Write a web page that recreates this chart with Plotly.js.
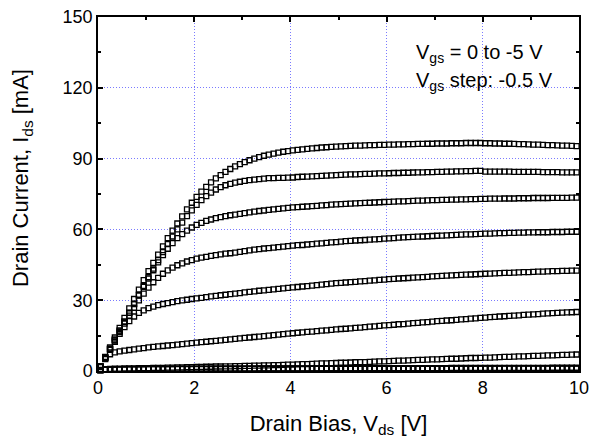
<!DOCTYPE html>
<html>
<head>
<meta charset="utf-8">
<script src="https://cdn.plot.ly/plotly-3.0.1.min.js"></script>
<style>html,body{margin:0;padding:0;background:#fff;}#chart{width:590px;height:443px;}</style>
</head>
<body>
<div id="chart"></div>
<script>
// Drain bias sweep points [V]
const vds = [0.05,0.15,0.25,0.35,0.45,0.55,0.65,0.75,0.85,0.95,
1.05,1.15,1.25,1.35,1.45,1.55,1.65,1.75,1.85,1.95,
2.05,2.15,2.25,2.35,2.45,2.55,2.65,2.75,2.85,2.95,
3.05,3.15,3.25,3.35,3.45,3.55,3.65,3.75,3.85,3.95,
4.05,4.15,4.25,4.35,4.45,4.55,4.65,4.75,4.85,4.95,
5.05,5.15,5.25,5.35,5.45,5.55,5.65,5.75,5.85,5.95,
6.05,6.15,6.25,6.35,6.45,6.55,6.65,6.75,6.85,6.95,
7.05,7.15,7.25,7.35,7.45,7.55,7.65,7.75,7.85,7.95,
8.05,8.15,8.25,8.35,8.45,8.55,8.65,8.75,8.85,8.95,
9.05,9.15,9.25,9.35,9.45,9.55,9.65,9.75,9.85,9.95];

// Gate voltages [V]
const vgsLabels = ["0","-0.5","-1","-1.5","-2","-2.5","-3","-3.5","-4","-4.5","-5"];

// Drain current [mA] per gate voltage
const ids_0 = [2.0,6.0,10.0,14.2,18.3,22.5,26.5,30.5,34.5,38.5,
42.3,45.8,49.3,52.8,56.3,59.5,62.5,65.5,68.5,71.3,
73.8,76.0,78.0,79.9,81.6,83.0,84.4,85.6,86.7,87.7,
88.5,89.3,90.0,90.6,91.2,91.7,92.1,92.5,92.9,93.2,
93.5,93.7,93.9,94.1,94.3,94.5,94.7,94.8,95.0,95.1,
95.2,95.3,95.4,95.5,95.5,95.6,95.7,95.7,95.8,95.8,
95.9,95.9,96.0,96.0,96.1,96.1,96.2,96.2,96.3,96.3,
96.4,96.4,96.4,96.5,96.5,96.5,96.6,96.6,96.6,96.6,
96.5,96.5,96.4,96.4,96.3,96.3,96.2,96.1,96.1,96.0,
95.9,95.9,95.8,95.7,95.7,95.6,95.5,95.5,95.4,95.3];

const ids_m05 = [1.9,5.7,9.5,13.3,17.1,20.9,24.7,28.5,32.3,36.1,
39.8,43.4,47.0,50.4,53.8,57.0,60.0,62.9,65.6,68.1,
70.4,72.4,74.1,75.6,76.9,77.9,78.7,79.3,79.8,80.2,
80.6,80.9,81.1,81.3,81.5,81.7,81.7,81.8,81.8,81.9,
82.0,82.2,82.3,82.4,82.5,82.6,82.7,82.8,82.9,83.0,
83.1,83.2,83.3,83.3,83.4,83.5,83.5,83.6,83.7,83.7,
83.8,83.9,83.9,84.0,84.0,84.1,84.2,84.2,84.3,84.3,
84.4,84.4,84.5,84.5,84.6,84.6,84.7,84.7,84.8,84.8,
84.5,84.5,84.5,84.5,84.5,84.5,84.4,84.4,84.4,84.4,
84.4,84.4,84.3,84.3,84.3,84.3,84.2,84.2,84.2,84.2];

const ids_m10 = [1.9,5.7,9.5,13.3,17.1,20.9,24.6,28.3,32.0,35.7,
39.2,42.7,46.0,49.1,51.8,54.2,56.3,58.0,59.5,60.8,
61.9,62.8,63.6,64.2,64.8,65.2,65.6,66.0,66.3,66.6,
66.9,67.2,67.5,67.8,68.0,68.3,68.5,68.7,68.9,69.1,
69.3,69.4,69.6,69.7,69.9,70.0,70.2,70.3,70.5,70.6,
70.7,70.8,70.9,71.0,71.1,71.2,71.3,71.4,71.5,71.6,
71.7,71.8,71.9,71.9,72.0,72.1,72.2,72.2,72.3,72.4,
72.4,72.5,72.5,72.6,72.6,72.7,72.7,72.8,72.8,72.9,
72.9,73.0,73.0,73.0,73.1,73.1,73.1,73.2,73.2,73.2,
73.3,73.3,73.3,73.3,73.4,73.4,73.4,73.4,73.5,73.5];

const ids_m15 = [1.9,5.6,9.3,12.9,16.5,20.1,23.5,26.8,29.9,32.8,
35.3,37.6,39.5,41.2,42.6,43.8,44.8,45.6,46.4,47.0,
47.6,48.0,48.4,48.8,49.1,49.4,49.7,49.9,50.2,50.5,
50.8,51.1,51.4,51.6,51.9,52.1,52.3,52.5,52.7,52.9,
53.1,53.3,53.4,53.6,53.8,54.0,54.1,54.3,54.5,54.6,
54.8,55.0,55.1,55.3,55.4,55.5,55.7,55.8,55.9,56.1,
56.2,56.3,56.5,56.6,56.7,56.8,56.9,57.0,57.1,57.2,
57.3,57.4,57.5,57.6,57.7,57.8,57.9,57.9,58.0,58.1,
58.2,58.2,58.3,58.4,58.4,58.5,58.5,58.6,58.6,58.7,
58.7,58.8,58.8,58.8,58.9,58.9,58.9,59.0,59.0,59.0];

const ids_m20 = [1.8,5.4,9.0,12.4,15.7,18.6,21.1,23.1,24.6,25.7,
26.6,27.3,27.9,28.4,28.8,29.2,29.6,29.9,30.2,30.5,
30.8,31.0,31.3,31.6,31.8,32.1,32.3,32.6,32.8,33.0,
33.3,33.5,33.7,34.0,34.2,34.4,34.6,34.8,35.0,35.2,
35.4,35.6,35.8,36.0,36.2,36.4,36.6,36.8,37.0,37.2,
37.3,37.5,37.7,37.8,38.0,38.1,38.3,38.4,38.6,38.7,
38.9,39.0,39.2,39.3,39.4,39.6,39.7,39.8,39.9,40.1,
40.2,40.3,40.4,40.5,40.6,40.7,40.8,40.9,41.0,41.1,
41.2,41.3,41.4,41.5,41.6,41.6,41.7,41.8,41.9,41.9,
42.0,42.1,42.1,42.2,42.3,42.3,42.4,42.4,42.5,42.5];

const ids_m25 = [1.7,5.0,7.1,7.9,8.3,8.6,8.9,9.2,9.5,9.7,
10.0,10.2,10.4,10.6,10.8,11.0,11.2,11.4,11.6,11.8,
12.0,12.2,12.4,12.6,12.8,13.0,13.2,13.4,13.6,13.8,
14.0,14.2,14.4,14.6,14.8,15.0,15.2,15.4,15.6,15.8,
16.0,16.2,16.4,16.6,16.7,16.9,17.1,17.2,17.4,17.6,
17.8,17.9,18.1,18.3,18.4,18.6,18.8,18.9,19.1,19.3,
19.4,19.6,19.8,19.9,20.1,20.3,20.4,20.6,20.7,20.9,
21.1,21.2,21.4,21.5,21.7,21.9,22.0,22.2,22.3,22.5,
22.6,22.8,22.9,23.1,23.2,23.4,23.5,23.6,23.8,23.9,
24.0,24.1,24.3,24.4,24.5,24.6,24.7,24.8,24.9,25.0];

const ids_m30 = [0.5,0.8,0.9,1.0,1.0,1.1,1.1,1.1,1.2,1.2,
1.2,1.3,1.3,1.3,1.4,1.4,1.5,1.5,1.6,1.6,
1.7,1.7,1.8,1.8,1.9,1.9,2.0,2.0,2.1,2.1,
2.2,2.2,2.3,2.3,2.4,2.4,2.5,2.5,2.6,2.7,
2.7,2.8,2.9,2.9,3.0,3.1,3.2,3.2,3.3,3.4,
3.5,3.5,3.6,3.7,3.8,3.8,3.9,4.0,4.1,4.1,
4.2,4.3,4.4,4.4,4.5,4.6,4.7,4.7,4.8,4.9,
4.9,5.0,5.1,5.2,5.2,5.3,5.4,5.5,5.5,5.6,
5.7,5.7,5.8,5.9,6.0,6.0,6.1,6.2,6.2,6.3,
6.4,6.4,6.5,6.6,6.6,6.7,6.8,6.8,6.9,7.0];

const ids_m35 = [0.4,0.6,0.7,0.8,0.8,0.8,0.9,0.9,0.9,0.9,
0.9,0.9,0.9,0.9,1.0,1.0,1.0,1.0,1.0,1.0,
1.0,1.0,1.0,1.0,1.0,1.0,1.0,1.0,1.0,1.0,
1.0,1.0,1.0,1.1,1.1,1.1,1.1,1.1,1.1,1.1,
1.1,1.1,1.1,1.1,1.1,1.1,1.1,1.1,1.1,1.1,
1.1,1.1,1.1,1.1,1.2,1.2,1.2,1.2,1.2,1.2,
1.2,1.2,1.2,1.2,1.2,1.2,1.2,1.2,1.2,1.2,
1.2,1.2,1.2,1.3,1.3,1.3,1.3,1.3,1.3,1.3,
1.3,1.3,1.3,1.3,1.3,1.3,1.3,1.3,1.3,1.3,
1.3,1.3,1.3,1.3,1.4,1.4,1.4,1.4,1.4,1.4];

const ids_m40 = [0.4,0.6,0.7,0.7,0.8,0.8,0.8,0.8,0.8,0.9,
0.9,0.9,0.9,0.9,0.9,0.9,0.9,0.9,0.9,0.9,
0.9,0.9,0.9,1.0,1.0,1.0,1.0,1.0,1.0,1.0,
1.0,1.0,1.0,1.0,1.0,1.0,1.0,1.0,1.0,1.0,
1.0,1.0,1.0,1.0,1.0,1.0,1.0,1.1,1.1,1.1,
1.1,1.1,1.1,1.1,1.1,1.1,1.1,1.1,1.1,1.1,
1.1,1.1,1.1,1.1,1.1,1.1,1.1,1.1,1.1,1.1,
1.1,1.1,1.1,1.1,1.1,1.1,1.2,1.2,1.2,1.2,
1.2,1.2,1.2,1.2,1.2,1.2,1.2,1.2,1.2,1.2,
1.2,1.2,1.2,1.2,1.2,1.2,1.2,1.2,1.2,1.2];

const ids_m45 = [0.4,0.5,0.6,0.7,0.7,0.7,0.8,0.8,0.8,0.8,
0.8,0.8,0.8,0.8,0.8,0.8,0.9,0.9,0.9,0.9,
0.9,0.9,0.9,0.9,0.9,0.9,0.9,0.9,0.9,0.9,
0.9,0.9,0.9,0.9,0.9,0.9,0.9,0.9,0.9,0.9,
0.9,0.9,0.9,0.9,1.0,1.0,1.0,1.0,1.0,1.0,
1.0,1.0,1.0,1.0,1.0,1.0,1.0,1.0,1.0,1.0,
1.0,1.0,1.0,1.0,1.0,1.0,1.0,1.0,1.0,1.0,
1.0,1.0,1.0,1.0,1.0,1.0,1.0,1.0,1.0,1.0,
1.0,1.0,1.0,1.0,1.1,1.1,1.1,1.1,1.1,1.1,
1.1,1.1,1.1,1.1,1.1,1.1,1.1,1.1,1.1,1.1];

const ids_m50 = [0.3,0.5,0.6,0.6,0.7,0.7,0.7,0.7,0.7,0.7,
0.8,0.8,0.8,0.8,0.8,0.8,0.8,0.8,0.8,0.8,
0.8,0.8,0.8,0.8,0.8,0.8,0.8,0.8,0.8,0.8,
0.9,0.9,0.9,0.9,0.9,0.9,0.9,0.9,0.9,0.9,
0.9,0.9,0.9,0.9,0.9,0.9,0.9,0.9,0.9,0.9,
0.9,0.9,0.9,0.9,0.9,0.9,0.9,0.9,0.9,0.9,
0.9,0.9,0.9,0.9,0.9,0.9,0.9,0.9,0.9,0.9,
1.0,1.0,1.0,1.0,1.0,1.0,1.0,1.0,1.0,1.0,
1.0,1.0,1.0,1.0,1.0,1.0,1.0,1.0,1.0,1.0,
1.0,1.0,1.0,1.0,1.0,1.0,1.0,1.0,1.0,1.0];

const seriesValues = [ids_0, ids_m05, ids_m10, ids_m15, ids_m20, ids_m25, ids_m30, ids_m35, ids_m40, ids_m45, ids_m50];

const FONT = "Liberation Sans, Arial, Helvetica, sans-serif";

const traces = seriesValues.map((ys, i) => ({
  type: "scatter",
  mode: "markers",
  name: "V<sub>gs</sub> = " + vgsLabels[i] + " V",
  x: vds,
  y: ys,
  cliponaxis: false,
  marker: {symbol: "square-open", size: 5, color: "#000", line: {color: "#000", width: 1.3}},
  hoverinfo: "x+y+name"
}));

const axisCommon = {
  showline: true, linecolor: "#000", linewidth: 1.5, mirror: "ticks",
  ticks: "inside", ticklen: 5, tickwidth: 1.5, tickcolor: "#000",
  showgrid: true, gridcolor: "#7a7aff", gridwidth: 1, griddash: "1px,2px",
  zeroline: false,
  tickfont: {family: FONT, size: 18, color: "#000"},
  fixedrange: true
};

const layout = {
  width: 590, height: 443,
  margin: {l: 98, r: 11, t: 17, b: 72, pad: 0},
  paper_bgcolor: "#fff", plot_bgcolor: "#fff",
  showlegend: false,
  font: {family: FONT, color: "#000"},
  xaxis: Object.assign({}, axisCommon, {
    range: [0, 10], tick0: 0, dtick: 2,
    minor: {ticks: "inside", dtick: 1, ticklen: 3, tickwidth: 1.5, tickcolor: "#000", showgrid: false},
    title: {text: "Drain Bias, V<sub>ds</sub> [V]", font: {family: FONT, size: 22, color: "#000"}, standoff: 18},
    automargin: false
  }),
  yaxis: Object.assign({}, axisCommon, {
    range: [0, 150], tick0: 0, dtick: 30,
    minor: {ticks: "inside", dtick: 15, ticklen: 3, tickwidth: 1.5, tickcolor: "#000", showgrid: false},
    automargin: false
  }),
  annotations: [
    {text: "Drain Current, I<sub>ds</sub> [mA]", textangle: -90, xref: "paper", yref: "paper",
     x: -0.158, y: 0.545, xanchor: "center", yanchor: "middle", showarrow: false,
     font: {family: FONT, size: 22, color: "#000"}},
    {text: "V<sub>gs</sub> = 0 to -5 V", xref: "paper", yref: "paper",
     x: 0.657, y: 0.898, xanchor: "left", yanchor: "middle", showarrow: false,
     font: {family: FONT, size: 20, color: "#000"}},
    {text: "V<sub>gs</sub> step: -0.5 V", xref: "paper", yref: "paper",
     x: 0.657, y: 0.819, xanchor: "left", yanchor: "middle", showarrow: false,
     font: {family: FONT, size: 20, color: "#000"}}
  ]
};

Plotly.newPlot("chart", traces, layout, {displayModeBar: false, staticPlot: false});
</script>
</body>
</html>
